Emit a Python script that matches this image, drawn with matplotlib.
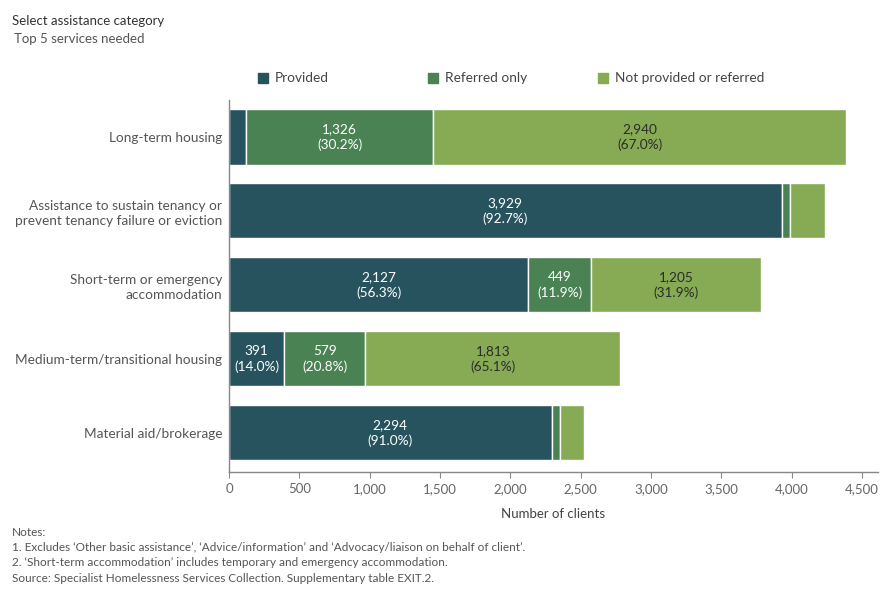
import matplotlib
matplotlib.use("Agg")
import matplotlib.pyplot as plt
from matplotlib.patches import Rectangle

categories = ["Long-term housing",
              "Assistance to sustain tenancy or\nprevent tenancy failure or eviction",
              "Short-term or emergency\naccommodation",
              "Medium-term/transitional housing",
              "Material aid/brokerage"]
provided = [124, 3929, 2127, 391, 2294]
referred = [1326, 58, 449, 579, 63]
not_prov = [2940, 251, 1205, 1813, 164]
series_names = ["Provided", "Referred only", "Not provided or referred"]
colors = ["#27535f", "#4a8253", "#86ab54"]
text_colors = ["white", "white", "#2b2b2b"]
xticks = [0, 500, 1000, 1500, 2000, 2500, 3000, 3500, 4000, 4500]

plt.rcParams['font.family'] = ['Lato', 'DejaVu Sans']

fig = plt.figure(figsize=(8.9, 6.0), dpi=100)
ax = fig.add_axes([229/890, 1-472/600, (878-229)/890, (472-100)/600])

series = [provided, referred, not_prov]
ypos = list(range(len(categories)))
for i, cat in enumerate(categories):
    total = sum(s[i] for s in series)
    left = 0
    for k, s in enumerate(series):
        v = s[i]
        ax.barh(i, v, left=left, height=0.745, color=colors[k],
                edgecolor="white", linewidth=1.0)
        if v / total > 0.1:
            pct = v / total * 100
            ax.text(left + v/2, i, f"{v:,}\n({pct:.1f}%)", ha="center", va="center",
                    color=text_colors[k], fontsize=9.8, linespacing=1.35)
        left += v

ax.set_ylim(4.53, -0.5)
ax.set_xlim(0, 4615)
ax.set_yticks(ypos)
ax.set_yticklabels(categories, fontsize=9.8, color="#555555", linespacing=1.35)
ax.tick_params(axis="y", length=0, pad=5)
ax.set_xticks(xticks)
ax.set_xticklabels([f"{t:,}" for t in xticks], fontsize=9.5, color="#666666")
ax.tick_params(axis="x", length=4, color="#888888", pad=4)
for sp in ["top", "right"]:
    ax.spines[sp].set_visible(False)
for sp in ["left", "bottom"]:
    ax.spines[sp].set_color("#888888")
    ax.spines[sp].set_linewidth(1.0)
ax.set_xlabel("Number of clients", fontsize=9.5, color="#444444", labelpad=9)

# Legend
leg_x = [258, 428, 598]
for k, name in enumerate(series_names):
    fig.add_artist(Rectangle((leg_x[k]/890, 1-83/600), 10/890, 10/600,
                             transform=fig.transFigure, color=colors[k]))
    fig.text((leg_x[k]+17)/890, 1-78/600, name, fontsize=9.8, color="#444444",
             va="center", ha="left")

fig.text(12/890, 1-21/600, "Select assistance category", fontsize=9.5,
         color="#333333", va="center")
fig.text(14/890, 1-39/600, "Top 5 services needed", fontsize=9.5,
         color="#555555", va="center")

notes = ["Notes:",
         "1. Excludes \u2018Other basic assistance\u2019, \u2018Advice/information\u2019 and \u2018Advocacy/liaison on behalf of client\u2019.",
         "2. \u2018Short-term accommodation\u2019 includes temporary and emergency accommodation.",
         "Source: Specialist Homelessness Services Collection. Supplementary table EXIT.2."]
for j, n in enumerate(notes):
    fig.text(12/890, 1-(532+15.5*j)/600, n, fontsize=8.5, color="#555555", va="center")

fig.savefig("out.png", dpi=100, facecolor="white")
